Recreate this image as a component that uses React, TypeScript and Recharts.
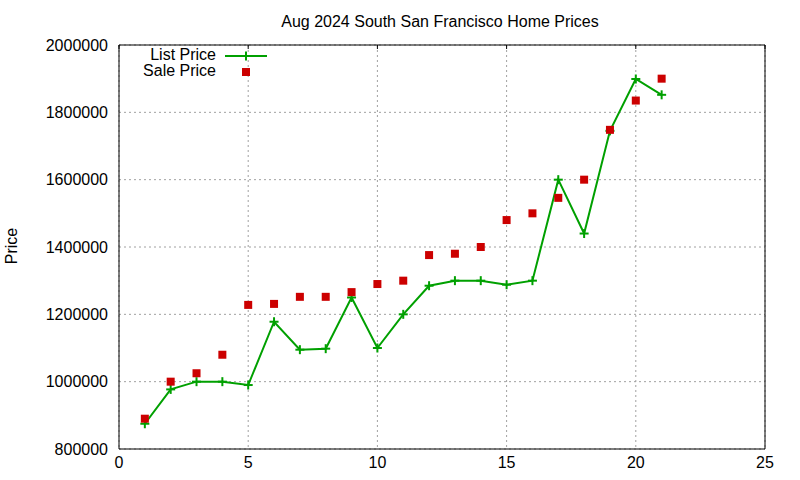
import { ComposedChart, Line, XAxis, YAxis, CartesianGrid, ReferenceArea } from "recharts";

const days = [1, 2, 3, 4, 5, 6, 7, 8, 9, 10, 11, 12, 13, 14, 15, 16, 17, 18, 19, 20, 21];
const listPrice = [
  875000, 977000, 1000000, 1000000, 990000, 1178000, 1095000, 1098000, 1250000, 1100000, 1200000,
  1285000, 1300000, 1300000, 1288000, 1300000, 1600000, 1440000, 1745000, 1899000, 1852000,
];
const salePrice = [
  890000, 1000000, 1025000, 1080000, 1228000, 1231000, 1252000, 1252000, 1266000, 1290000, 1300000,
  1376000, 1380000, 1400000, 1480000, 1500000, 1546000, 1600000, 1748000, 1835000, 1900000,
];
const xTicks = [0, 5, 10, 15, 20, 25];
const yTicks = [800000, 1000000, 1200000, 1400000, 1600000, 1800000, 2000000];

const data = days.map((d, i) => ({ day: d, list: listPrice[i], sale: salePrice[i] }));

const FONT = "'Liberation Sans', Arial, sans-serif";
const GREEN = "#00a000";
const RED = "#cc0000";

const PlusDot = (props: any) => {
  const { cx, cy } = props;
  if (cx == null || cy == null) return null;
  return (
    <g>
      <line x1={cx - 4.5} x2={cx + 4.5} y1={cy} y2={cy} stroke={GREEN} strokeWidth={2} />
      <line x1={cx} x2={cx} y1={cy - 4.5} y2={cy + 4.5} stroke={GREEN} strokeWidth={2} />
    </g>
  );
};

const SquareDot = (props: any) => {
  const { cx, cy } = props;
  if (cx == null || cy == null) return null;
  return <rect x={cx - 4} y={cy - 4} width={8} height={8} fill={RED} />;
};

const XTick = (props: any) => {
  const { x, y, payload } = props;
  return (
    <g>
      <line x1={x} x2={x} y1={45} y2={49} stroke="#000" />
      <text x={x} y={y + 19} textAnchor="middle" fontSize={16} fontFamily={FONT} fill="#000">
        {payload.value}
      </text>
    </g>
  );
};

const YTick = (props: any) => {
  const { x, y, payload } = props;
  return (
    <text x={x - 11} y={y + 5.5} textAnchor="end" fontSize={16} fontFamily={FONT} fill="#000">
      {payload.value}
    </text>
  );
};

export default function App() {
  return (
    <div style={{ position: "absolute", left: 0, top: 0, width: 800, height: 480, background: "#fff" }}>
      <ComposedChart width={800} height={480} data={data} margin={{ top: 45, right: 35, left: 0, bottom: 0 }}>
        <CartesianGrid stroke="#a0a0a0" strokeDasharray="2 3" />
        <XAxis
          type="number"
          dataKey="day"
          domain={[0, 25]}
          ticks={xTicks}
          height={31}
          tickSize={0}
          tickMargin={0}
          tickLine={false}
          axisLine={false}
          tick={<XTick />}
          interval={0}
        />
        <YAxis
          type="number"
          domain={[800000, 2000000]}
          ticks={yTicks}
          width={119}
          tickSize={0}
          tickMargin={0}
          tickLine={false}
          axisLine={false}
          tick={<YTick />}
          interval={0}
        />
        <ReferenceArea x1={0} x2={25} y1={800000} y2={2000000} fill="none" stroke="#000" strokeWidth={1} fillOpacity={0} />
        <Line
          dataKey="list"
          stroke={GREEN}
          strokeWidth={2}
          dot={<PlusDot />}
          activeDot={false}
          isAnimationActive={false}
          type="linear"
        />
        <Line
          dataKey="sale"
          stroke="none"
          dot={<SquareDot />}
          activeDot={false}
          isAnimationActive={false}
          type="linear"
        />
      </ComposedChart>
      <svg
        width={800}
        height={480}
        style={{ position: "absolute", left: 0, top: 0, pointerEvents: "none" }}
        fontFamily={FONT}
        fontSize={16}
      >
        <text x={440} y={27} textAnchor="middle" fill="#000">
          Aug 2024 South San Francisco Home Prices
        </text>
        <text x={17} y={246} textAnchor="middle" transform="rotate(-90 17 246)" fill="#000">
          Price
        </text>
        <text x={216} y={60} textAnchor="end" fill="#000">
          List Price
        </text>
        <line x1={225} x2={267} y1={56} y2={56} stroke={GREEN} strokeWidth={2} />
        <line x1={246} x2={246} y1={51.5} y2={60.5} stroke={GREEN} strokeWidth={2} />
        <text x={216} y={76} textAnchor="end" fill="#000">
          Sale Price
        </text>
        <rect x={242} y={68} width={8} height={8} fill={RED} />
      </svg>
    </div>
  );
}
